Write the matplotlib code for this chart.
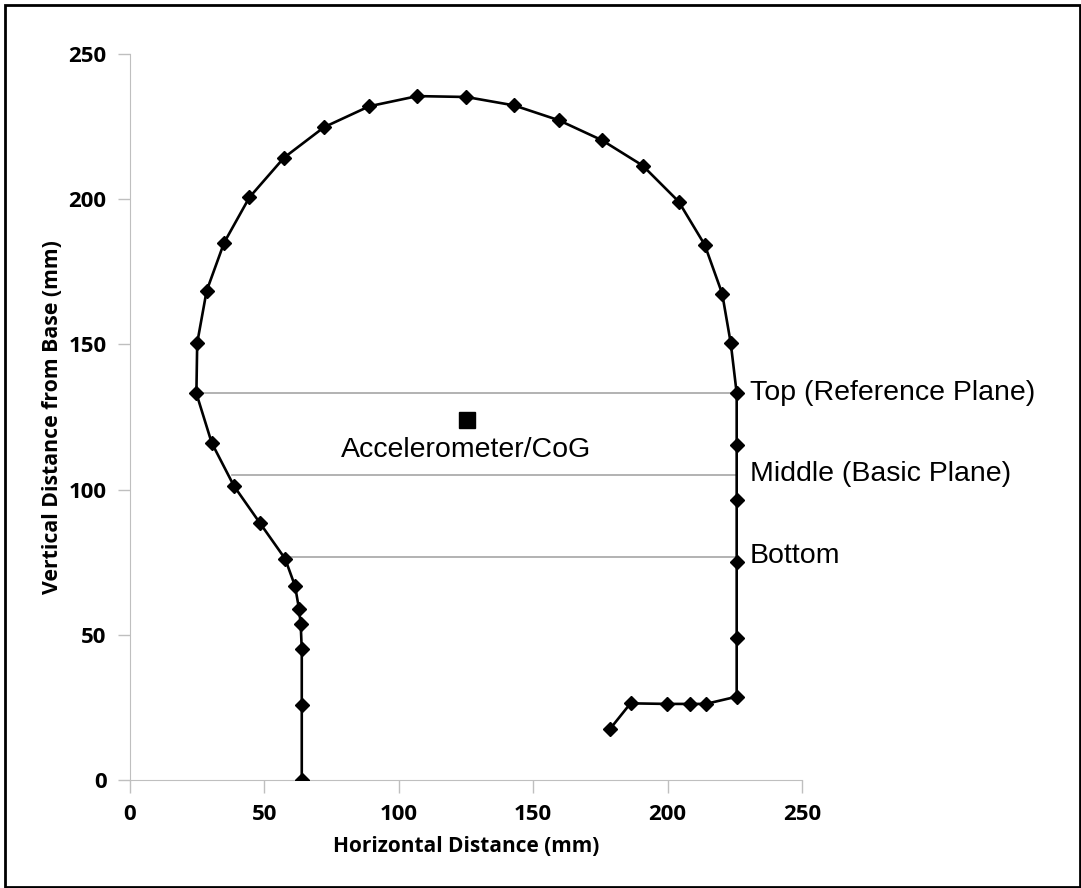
import matplotlib
matplotlib.use('Agg')
import matplotlib.pyplot as plt
from matplotlib.patches import Rectangle

# head profile (mm)
profile_x = [63.9, 63.9, 63.9, 63.5, 62.9, 61.4, 57.7, 48.4, 38.7, 30.4,
             24.7, 25.0, 28.5, 35.0, 44.4, 57.3, 72.2, 89.0, 106.9, 125.1,
             142.9, 159.5, 175.6, 190.7, 204.1, 213.8, 220.3, 223.5, 225.7, 225.7,
             225.7, 225.7, 225.7, 225.7, 214.2, 208.3, 199.6, 186.2, 178.6]
profile_y = [0.0, 25.7, 45.0, 53.7, 58.8, 66.8, 76.2, 88.4, 101.2, 116.1,
             133.1, 150.5, 168.4, 185.0, 200.6, 214.3, 224.8, 232.0, 235.5, 235.2,
             232.3, 227.2, 220.3, 211.6, 199.2, 184.3, 167.5, 150.4, 133.2, 115.3,
             96.4, 75.2, 48.9, 28.7, 26.2, 26.2, 26.2, 26.4, 17.6]

# planes
plane_names = ['Top (Reference Plane)', 'Middle (Basic Plane)', 'Bottom']
plane_y = [133.1, 104.9, 76.9]
plane_x0 = [24.7, 37.8, 58.0]
plane_x1 = [225.7, 225.7, 225.7]

cog_x = [125.2]
cog_y = [124.0]

ticks = [0, 50, 100, 150, 200, 250]

fig = plt.figure(figsize=(10.81, 8.88), dpi=100)
ax = fig.add_axes([130 / 1081, 108 / 888, 672 / 1081, 726 / 888])

grey = '#BFBFBF'
for i in range(len(plane_y)):
    ax.plot([plane_x0[i], plane_x1[i]], [plane_y[i], plane_y[i]],
            color='#A6A6A6', lw=1.2, zorder=1)
    ax.text(230.5, plane_y[i] + 0.3, plane_names[i], fontsize=20.5,
            family='Liberation Sans', va='center', ha='left')

ax.plot(profile_x, profile_y, color='black', lw=1.9, marker='D',
        markersize=7, zorder=3)
ax.plot(cog_x, cog_y, ls='none', marker='s', color='black', markersize=11, zorder=3)
ax.text(125.2, 113.5, 'Accelerometer/CoG', fontsize=20.5,
        family='Liberation Sans', ha='center', va='center')

ax.set_xlim(0, 250)
ax.set_ylim(0, 250)
ax.set_xticks(ticks)
ax.set_yticks(ticks)
ax.spines['top'].set_visible(False)
ax.spines['right'].set_visible(False)
ax.spines['left'].set_color(grey)
ax.spines['bottom'].set_color(grey)
ax.tick_params(colors=grey, length=9, width=1, labelcolor='black', labelsize=16, pad=8)
for lab in ax.get_xticklabels() + ax.get_yticklabels():
    lab.set_family('Open Sans')
    lab.set_fontweight('bold')

ax.set_xlabel('Horizontal Distance (mm)', family='Open Sans', fontweight='bold',
              fontsize=15, labelpad=8)
ax.set_ylabel('Vertical Distance from Base (mm)', family='Open Sans', fontweight='bold',
              fontsize=15.3, labelpad=4)

fig.patches.append(Rectangle((5 / 1081, 1 / 888), 1075 / 1081, 882 / 888,
                             transform=fig.transFigure, fill=False,
                             edgecolor='black', lw=2))

fig.savefig('out.png', dpi=100)
